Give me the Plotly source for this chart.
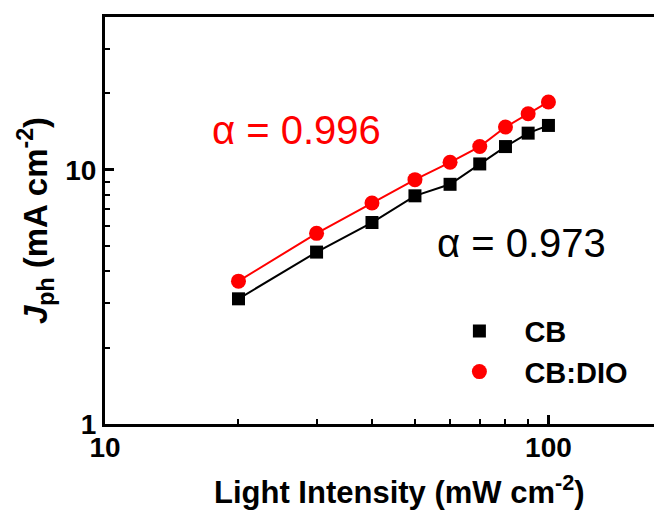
import numpy as np
import plotly.graph_objects as go

intensity = [20, 30, 40, 50, 60, 70, 80, 90, 100]
jph_cb = [3.11, 4.75, 6.21, 7.91, 8.78, 10.56, 12.36, 13.96, 14.97]
jph_dio = [3.65, 5.63, 7.41, 9.16, 10.72, 12.36, 14.75, 16.65, 18.52]
alpha_cb = "α = 0.973"
alpha_dio = "α = 0.996"
x_title = "<b>Light Intensity (mW cm<sup>-2</sup>)</b>"
y_title = "<b><i>J</i><sub>ph</sub> (mA cm<sup>-2</sup>)</b>"

FONT = "Arial, Liberation Sans, sans-serif"
fig = go.Figure()

fig.add_trace(go.Scatter(x=intensity, y=jph_cb, mode="lines", line=dict(color="black", width=2),
                         showlegend=False, hoverinfo="skip"))
fig.add_trace(go.Scatter(x=intensity, y=jph_dio, mode="lines", line=dict(color="#ff0000", width=2),
                         showlegend=False, hoverinfo="skip"))
fig.add_trace(go.Scatter(x=intensity, y=jph_cb, mode="markers", name="CB", legendgroup="a",
                         marker=dict(symbol="square", size=13, color="black")))
fig.add_trace(go.Scatter(x=intensity, y=jph_dio, mode="markers", name="CB:DIO", legendgroup="b",
                         marker=dict(symbol="circle", size=15, color="#ff0000")))

fig.add_annotation(x=np.log10(27), y=np.log10(14.4), xref="x", yref="y", text=alpha_dio, showarrow=False,
                   font=dict(family=FONT, size=40, color="#ff0000"))
fig.add_annotation(x=np.log10(87), y=np.log10(5.15), xref="x", yref="y", text=alpha_cb, showarrow=False,
                   font=dict(family=FONT, size=40, color="black"))
fig.add_annotation(x=0.537, y=-0.162, xref="paper", yref="paper", text=x_title, showarrow=False,
                   xanchor="center", yanchor="middle",
                   font=dict(family=FONT, size=31, color="black"))

axis_common = dict(
    type="log", showgrid=False, zeroline=False, showline=True, linecolor="black", linewidth=3,
    ticks="inside", ticklen=9, tickwidth=3, tickcolor="black",
    tickfont=dict(family=FONT, size=28, color="black", weight="bold"),
    minor=dict(ticks="inside", ticklen=5, tickwidth=2, tickcolor="black", dtick="D1", showgrid=False),
)

fig.update_xaxes(**axis_common, range=[1, np.log10(173)], tickvals=[10, 100], ticktext=["10", "100"],
                 mirror=True, ticklabelstandoff=-4)
fig.update_yaxes(**axis_common, range=[0, np.log10(40)], tickvals=[1, 10], ticktext=["1", "10"],
                 mirror=False,
                 title=dict(text=y_title, font=dict(family=FONT, size=33, color="black"), standoff=8))

fig.update_layout(
    width=654, height=511,
    margin=dict(l=105, r=0, t=17, b=87),
    paper_bgcolor="white", plot_bgcolor="white",
    showlegend=True,
    legend=dict(x=0.60, y=0.291, xanchor="left", yanchor="top", bgcolor="rgba(0,0,0,0)",
                font=dict(family=FONT, size=29, color="black", weight="bold"),
                tracegroupgap=0, traceorder="grouped", itemwidth=80),
)

fig.write_html("out.html", config={"displayModeBar": False},
               post_script="document.body.style.margin='0px';document.body.style.overflow='hidden';")
